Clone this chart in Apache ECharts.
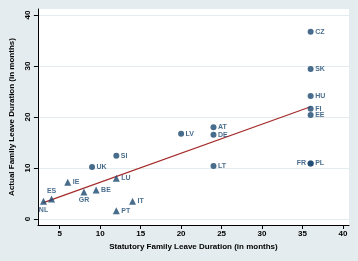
<!DOCTYPE html>
<html>
<head>
<meta charset="utf-8">
<script src="https://cdn.jsdelivr.net/npm/echarts@6/dist/echarts.min.js"></script>
<style>
  html, body { margin: 0; padding: 0; background: #e4ecef; }
  #leaveChart { width: 358px; height: 261px; }
</style>
</head>
<body>
<div id="leaveChart"></div>
<script>
// country codes, statutory vs actual family leave (months)
const countries = ['CZ', 'SK', 'HU', 'FI', 'EE', 'AT', 'DE', 'LV', 'LT', 'FR', 'PL', 'SI', 'UK',
  'LU', 'IE', 'ES', 'NL', 'GR', 'BE', 'IT', 'PT']
const statutory = [36, 36, 36, 36, 36, 24, 24, 20, 24, 36, 36, 12, 9,
  12, 6, 4, 3, 8, 9.5, 14, 12]
const actual = [36.7, 29.4, 24.1, 21.6, 20.4, 18.0, 16.5, 16.7, 10.4, 10.9, 10.9, 12.4, 10.2,
  8.0, 7.2, 3.9, 3.5, 5.3, 5.7, 3.5, 1.6]
// marker group: 'c' = circle, 't' = triangle
const groups = ['c', 'c', 'c', 'c', 'c', 'c', 'c', 'c', 'c', 'c', 'c', 'c', 'c',
  't', 't', 't', 't', 't', 't', 't', 't']
// fitted line end points
const fitX = [3, 36]
const fitY = [3.2, 22.0]
const xTicks = [5, 10, 15, 20, 25, 30, 35, 40]
const yTicks = [0, 10, 20, 30, 40]

const navy = '#1a476f'
const font = 'Liberation Sans, Arial, sans-serif'
// labels that don't sit on the right of their marker
const labelPos = { FR: 'left', GR: 'bottom', ES: 'top', NL: 'bottom' }

function pointsFor (g) {
  const out = []
  countries.forEach((c, i) => {
    if (groups[i] !== g) return
    out.push({
      value: [statutory[i], actual[i]],
      name: c,
      label: { position: labelPos[c] || 'right' }
    })
  })
  return out
}

const chart = echarts.init(document.getElementById('leaveChart'))
const pointLabel = {
  show: true,
  formatter: p => p.name,
  color: navy,
  fontSize: 7,
  fontWeight: 'bold',
  fontFamily: font,
  distance: 1.5
}
const option = {
  backgroundColor: '#e4ecef',
  animation: false,
  grid: {
    left: 35,
    right: 9,
    top: 9,
    bottom: 36,
    show: true,
    backgroundColor: '#fff',
    borderWidth: 0
  },
  xAxis: {
    type: 'value',
    min: 2.31,
    max: 40.74,
    name: 'Statutory Family Leave Duration (in months)',
    nameLocation: 'middle',
    nameGap: 13,
    nameTextStyle: { color: '#000', fontSize: 8, fontWeight: 'bold', fontFamily: font, verticalAlign: 'top' },
    axisLine: { show: true, onZero: false, lineStyle: { color: '#000', width: 1 } },
    axisTick: { show: true, length: 4, customValues: xTicks, lineStyle: { color: '#000' } },
    axisLabel: { customValues: xTicks, margin: 5, color: '#000', fontSize: 8, fontWeight: 'bold', fontFamily: font },
    splitLine: { show: false }
  },
  yAxis: {
    type: 'value',
    min: -1.18,
    max: 41.18,
    name: 'Actual Family Leave Duration (in months)',
    nameLocation: 'middle',
    nameGap: 17,
    nameTextStyle: { color: '#000', fontSize: 8, fontWeight: 'bold', fontFamily: font },
    axisLine: { show: true, onZero: false, lineStyle: { color: '#000', width: 1 } },
    axisTick: { show: true, length: 4, customValues: yTicks, lineStyle: { color: '#000' } },
    axisLabel: { customValues: yTicks, rotate: 90, margin: 6, color: '#000', fontSize: 8, fontWeight: 'bold', fontFamily: font },
    splitLine: { show: true, customValues: yTicks, lineStyle: { color: '#e3ecee', width: 1 } }
  },
  series: [
    {
      type: 'scatter',
      symbol: 'circle',
      symbolSize: 6,
      itemStyle: { color: navy },
      label: pointLabel,
      data: pointsFor('c'),
      z: 3
    },
    {
      type: 'scatter',
      symbol: 'triangle',
      symbolSize: 7,
      itemStyle: { color: navy },
      label: pointLabel,
      data: pointsFor('t'),
      z: 3
    },
    {
      type: 'line',
      symbol: 'none',
      lineStyle: { color: '#a52a2a', width: 1.2 },
      data: fitX.map((x, i) => [x, fitY[i]]),
      z: 2
    }
  ]
}
chart.setOption(option)
</script>
</body>
</html>
